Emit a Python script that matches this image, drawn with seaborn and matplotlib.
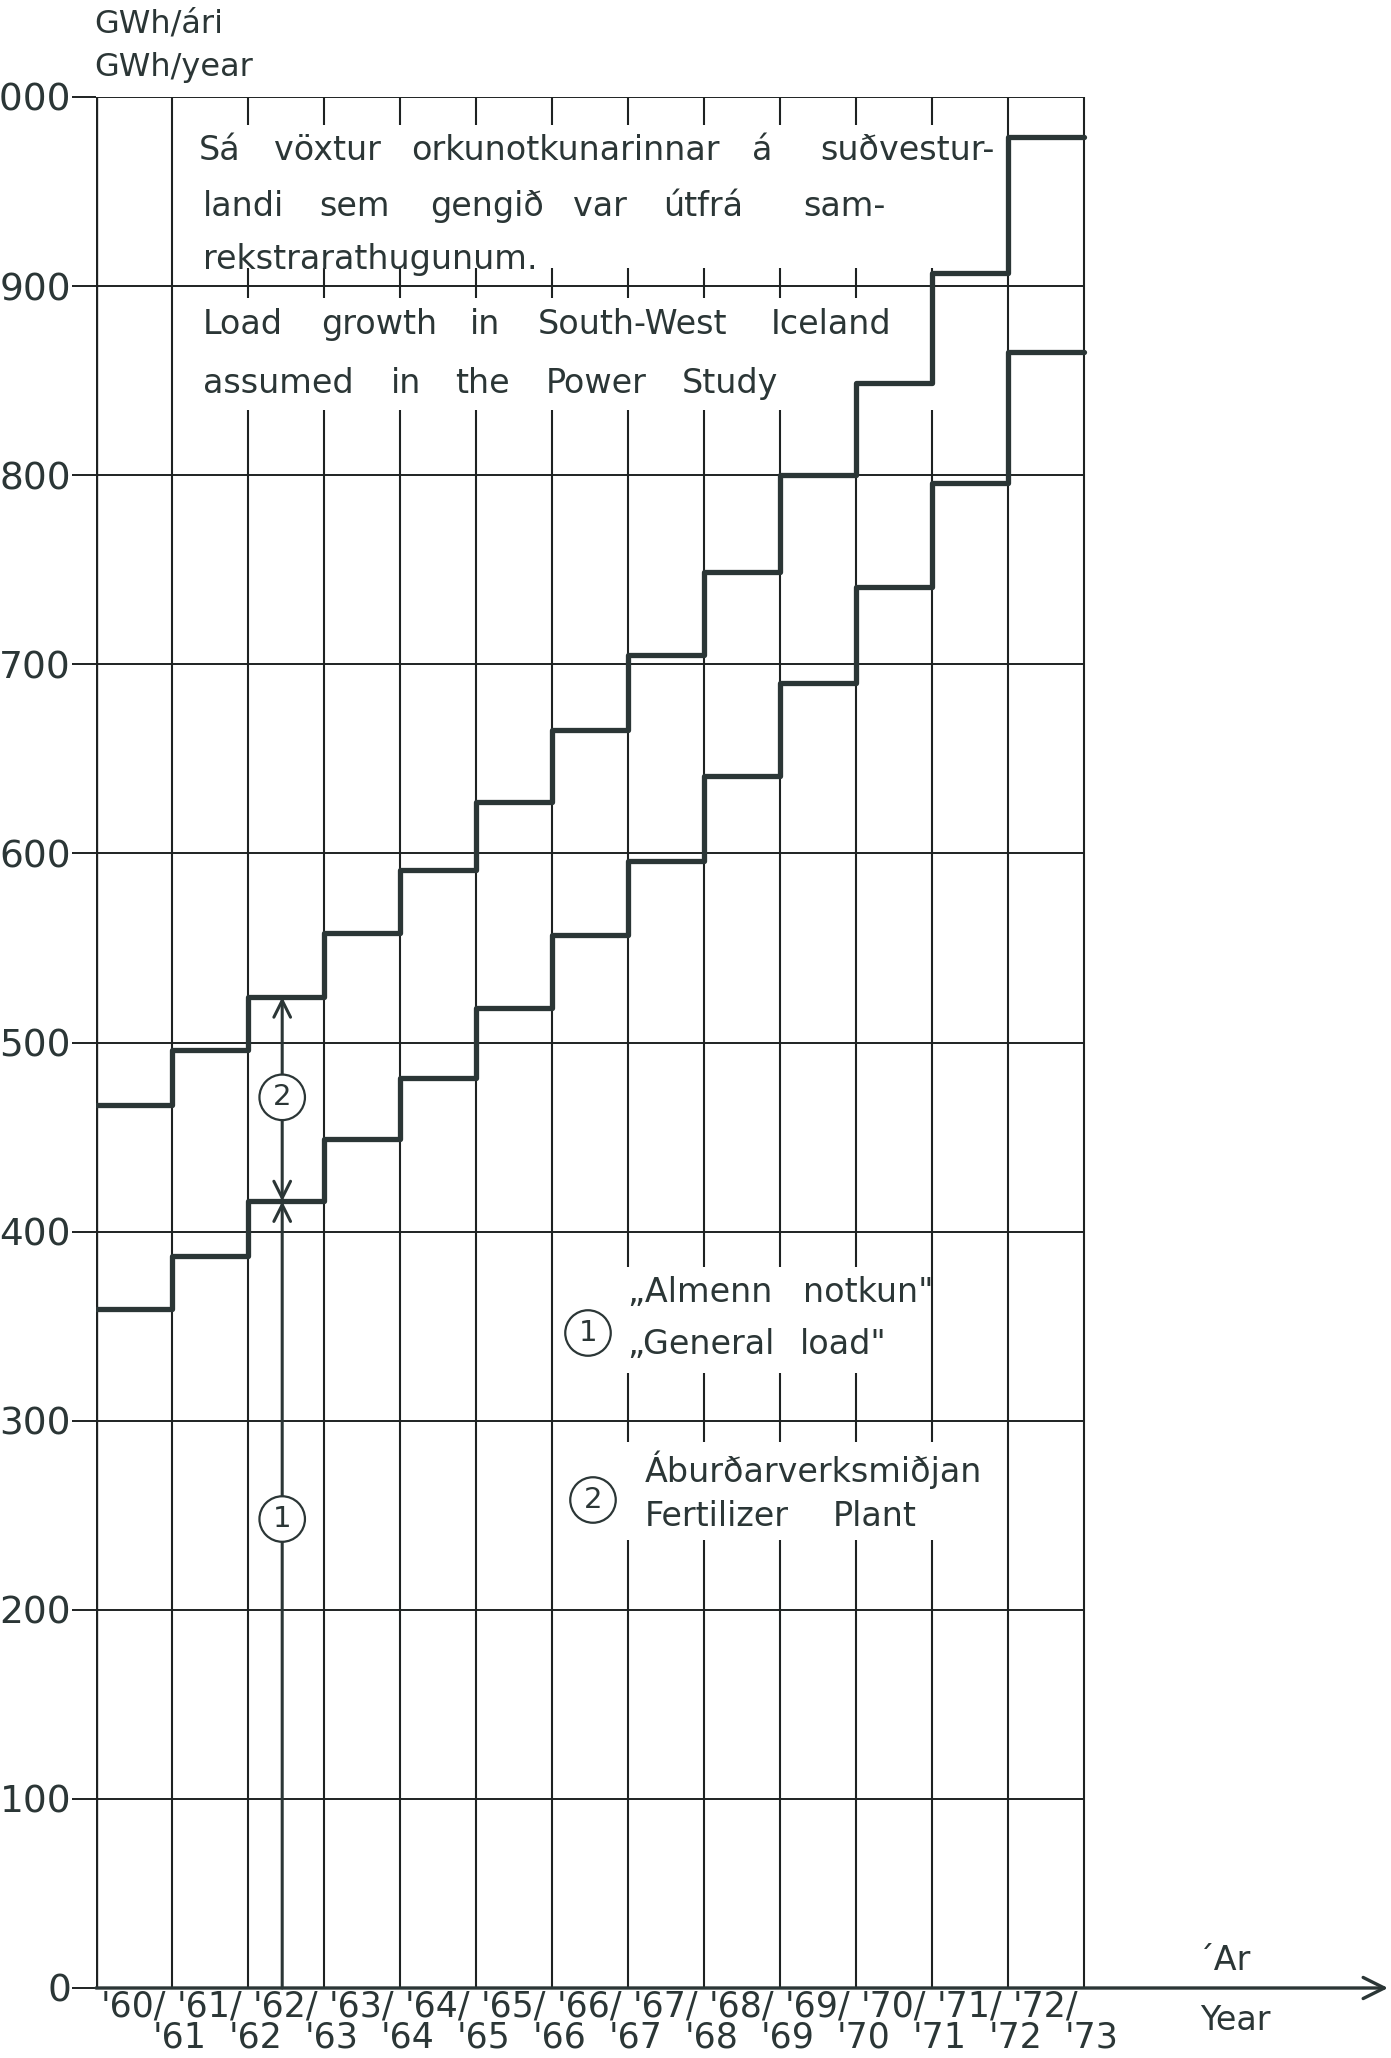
"""
Load growth in South-West Iceland (Power Study) - step chart.
"""

import numpy as np
import pandas as pd
import matplotlib
matplotlib.use('Agg')
import matplotlib.pyplot as plt
from matplotlib.patches import Rectangle
import seaborn as sns

# ---- data (GWh/year per season) ----
season_start = ["'60", "'61", "'62", "'63", "'64", "'65", "'66",
                "'67", "'68", "'69", "'70", "'71", "'72"]
season_end = ["'61", "'62", "'63", "'64", "'65", "'66", "'67",
              "'68", "'69", "'70", "'71", "'72", "'73"]
general_load = [359, 387, 416, 449, 481, 518, 557, 596, 641, 690, 741, 796, 865]
with_fertilizer = [467, 496, 524, 558, 591, 627, 665, 705, 749, 800, 849, 907, 979]
y_ticks = [0, 100, 200, 300, 400, 500, 600, 700, 800, 900, 1000]

INK = '#2b3636'
GRID = '#1e2222'

sns.set_theme(style='white')
plt.rcParams['font.family'] = ['DejaVu Sans']

W, H = 1391, 2058
fig = plt.figure(figsize=(W / 100, H / 100), dpi=100)
fig.patch.set_facecolor('white')
# axes: x in season units (76 px each), y in GWh (1891 px per 1000)
ax = fig.add_axes([96 / W, 70 / H, (W - 96) / W, 1891 / H])
ax.set_xlim(0, (W - 96) / 76)
ax.set_ylim(0, 1000)
ax.set_facecolor('white')


def px(x, y):
    """Scan pixel -> data coordinates."""
    return (x - 96) / 76, (1988 - y) * 1000 / 1891


n = len(general_load)

# grid: vertical lines first, white-out boxes, then horizontal lines
ax.vlines(range(1, n + 1), -6, 1000, color=GRID, lw=1.5, zorder=1)
ax.vlines([0], -6, 1000, color=GRID, lw=2.4, zorder=1)
for x0, y0, x1, y1 in [(180, 125, 1000, 268), (180, 298, 1000, 410),
                       (560, 1267, 925, 1373), (560, 1442, 1000, 1540)]:
    (a, b), (c, d) = px(x0, y1), px(x1, y0)
    ax.add_patch(Rectangle((a, b), c - a, d - b, fc='white', ec='none', zorder=2))
ax.hlines(y_ticks[1:], 0, n, color=GRID, lw=1.4, zorder=3)

# step series
xs = np.arange(n + 1)
df = pd.DataFrame({
    'x': np.concatenate([xs, xs]),
    'gwh': general_load + general_load[-1:] + with_fertilizer + with_fertilizer[-1:],
    'series': ['general'] * (n + 1) + ['total'] * (n + 1),
})
sns.lineplot(data=df, x='x', y='gwh', hue='series', palette=[INK, INK],
             drawstyle='steps-post', lw=3.8, legend=False, ax=ax, zorder=4)

# x axis arrow
ax.annotate('', xy=px(1388, 1988), xytext=(0, 0),
            arrowprops=dict(arrowstyle='->', lw=2.4, color=INK, mutation_scale=38,
                            shrinkA=0, shrinkB=0), zorder=5, annotation_clip=False)

# arrows 1 and 2 in the '62/'63 column
xa = 2.45
ax.annotate('', xy=(xa, general_load[2]), xytext=(xa, 0),
            arrowprops=dict(arrowstyle='->', lw=2.2, color=INK, mutation_scale=30,
                            shrinkA=0, shrinkB=0), zorder=5)
ax.annotate('', xy=(xa, with_fertilizer[2]), xytext=(xa, general_load[2]),
            arrowprops=dict(arrowstyle='<->', lw=2.2, color=INK, mutation_scale=30,
                            shrinkA=0, shrinkB=0), zorder=5)
circ = dict(boxstyle='circle,pad=0.3', fc='white', ec=INK, lw=1.6)
ax.text(xa, 248, '1', fontsize=21, color=INK, ha='center', va='center',
        bbox=circ, zorder=6)
ax.text(xa, 471, '2', fontsize=21, color=INK, ha='center', va='center',
        bbox=circ, zorder=6)

# y axis
ax.set_yticks(y_ticks)
ax.set_yticklabels([str(v) for v in y_ticks], fontsize=27, color=INK)
ax.tick_params(axis='y', length=17, width=1.4, color=GRID, pad=1, left=True)
ax.set_xticks([])
ax.set_xlabel('')
ax.set_ylabel('')
for s in ax.spines.values():
    s.set_visible(False)

tk = dict(color=INK, va='center', ha='left', zorder=7, clip_on=False)
ax.text(*px(94, 24), 'GWh/ári', fontsize=23, **tk)
ax.text(*px(94, 68), 'GWh/year', fontsize=23, **tk)

# season labels
for i in range(n):
    ax.text(i + 0.06, px(0, 2006)[1], season_start[i] + '/', fontsize=25, **tk)
    ax.text(i + 0.74, px(0, 2038)[1], season_end[i], fontsize=25, **tk)
ax.text(*px(1198, 1960), '´Ar', fontsize=24, **tk)
ax.text(*px(1200, 2020), 'Year', fontsize=24, **tk)

# title block
words = [
    (151, [('Sá', 199), ('vöxtur', 274), ('orkunotkunarinnar', 411), ('á', 752),
           ('suðvestur-', 820)]),
    (207, [('landi', 203), ('sem', 319), ('gengið', 430), ('var', 573),
           ('útfrá', 663), ('sam-', 803)]),
    (260, [('rekstrarathugunum.', 203)]),
    (325, [('Load', 203), ('growth', 321), ('in', 470), ('South-West', 538),
           ('Iceland', 771)]),
    (384, [('assumed', 203), ('in', 391), ('the', 455), ('Power', 546),
           ('Study', 682)]),
]
for y, row in words:
    for w, x in row:
        ax.text(*px(x, y), w, fontsize=24, **tk)

# legend
ax.text(*px(588, 1333), '1', fontsize=21, color=INK, ha='center', va='center',
        bbox=circ, zorder=7)
ax.text(*px(593, 1500), '2', fontsize=21, color=INK, ha='center', va='center',
        bbox=circ, zorder=7)
for w, x, y in [('„Almenn', 627, 1293), ('notkun"', 803, 1293),
                ('„General', 627, 1345), ('load"', 800, 1345),
                ('Áburðarverksmiðjan', 645, 1470),
                ('Fertilizer', 645, 1517), ('Plant', 833, 1517)]:
    ax.text(*px(x, y), w, fontsize=24, **tk)

plt.savefig('out.png', dpi=100, facecolor='white')
plt.close()
